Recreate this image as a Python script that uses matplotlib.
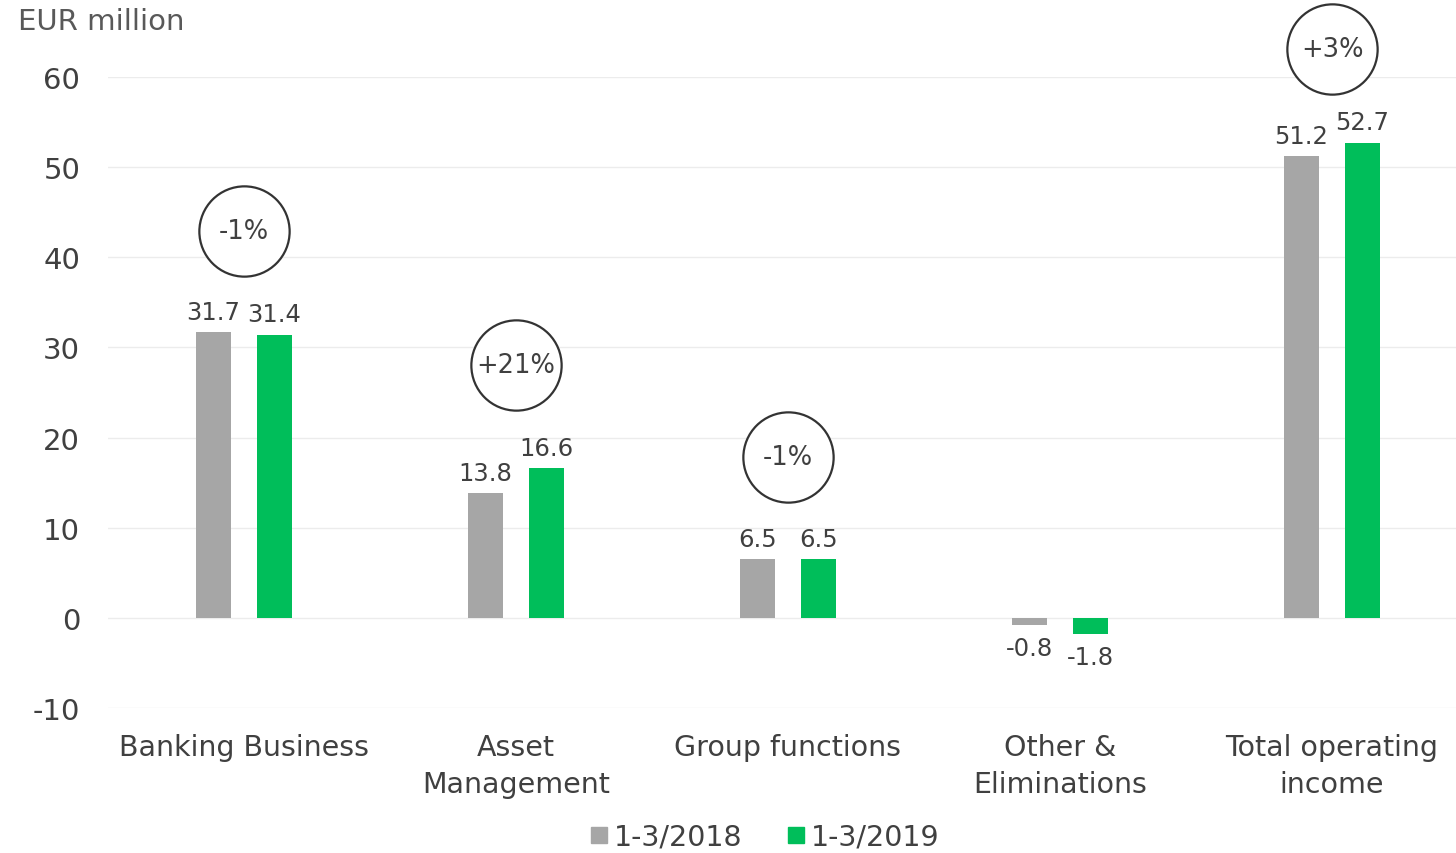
import matplotlib
matplotlib.use("Agg")
import matplotlib.pyplot as plt
from matplotlib.lines import Line2D
import numpy as np

plt.rcParams['font.family'] = ['DejaVu Sans']
plt.rcParams['axes.unicode_minus'] = False

categories = ["Banking Business", "Asset\nManagement", "Group functions",
              "Other &\nEliminations", "Total operating\nincome"]
q1_2018 = [31.7, 13.8, 6.5, -0.8, 51.2]
q1_2019 = [31.4, 16.6, 6.5, -1.8, 52.7]
changes = ["-1%", "+21%", "-1%", None, "+3%"]
change_y = [42.9, 28.0, 17.8, None, 63.1]
series_names = ["1-3/2018", "1-3/2019"]

GRAY = "#a6a6a6"
GREEN = "#00be5a"
TEXT = "#404040"

fig = plt.figure(figsize=(14.56, 8.54), dpi=100)
ax = fig.add_axes([108 / 1456, (854 - 709) / 854, 1360 / 1456, (709 - 78) / 854])

x = np.arange(len(categories))
off, w = 0.112, 0.129
ax.bar(x - off, q1_2018, width=w, color=GRAY, zorder=3)
ax.bar(x + off, q1_2019, width=w, color=GREEN, zorder=3)

for xs, vals in ((x - off, q1_2018), (x + off, q1_2019)):
    for xi, v in zip(xs, vals):
        ax.annotate(f"{v:.1f}", (xi, v), xytext=(0, 6 if v >= 0 else -8),
                    textcoords="offset points", ha="center",
                    va="bottom" if v >= 0 else "top", fontsize=17.5, color=TEXT)

for xi, c, cy in zip(x, changes, change_y):
    if c is None:
        continue
    ax.plot([xi], [cy], marker="o", markersize=65, markerfacecolor="white",
            markeredgecolor="#333333", markeredgewidth=1.6, clip_on=False, zorder=5)
    ax.text(xi, cy, c, ha="center", va="center", fontsize=18.5, color=TEXT, zorder=6)

ax.set_xlim(-0.5, 4.5)
ax.set_ylim(-10, 60)
ax.set_yticks(range(-10, 61, 10))
ax.yaxis.grid(True, color="#ececec", linewidth=1, zorder=0)
ax.set_xticks(x)
ax.set_xticklabels(categories, fontsize=20.5, color=TEXT, linespacing=1.4)
ax.tick_params(axis="x", length=0, pad=18)
ax.tick_params(axis="y", length=0, pad=20, labelsize=21, labelcolor=TEXT)
for s in ax.spines.values():
    s.set_visible(False)

fig.text(18 / 1456, 1 - 22 / 854, "EUR million", fontsize=21, color="#595959",
         ha="left", va="center")

handles = [Line2D([], [], marker="s", linestyle="", markersize=12, color=GRAY),
           Line2D([], [], marker="s", linestyle="", markersize=12, color=GREEN)]
fig.legend(handles, series_names, loc="center", bbox_to_anchor=(762 / 1456, 1 - 838 / 854),
           ncol=2, frameon=False, fontsize=20.5, handletextpad=0.0, columnspacing=1.4,
           handlelength=1.0, labelcolor=TEXT)

fig.savefig("out.png", dpi=100)
